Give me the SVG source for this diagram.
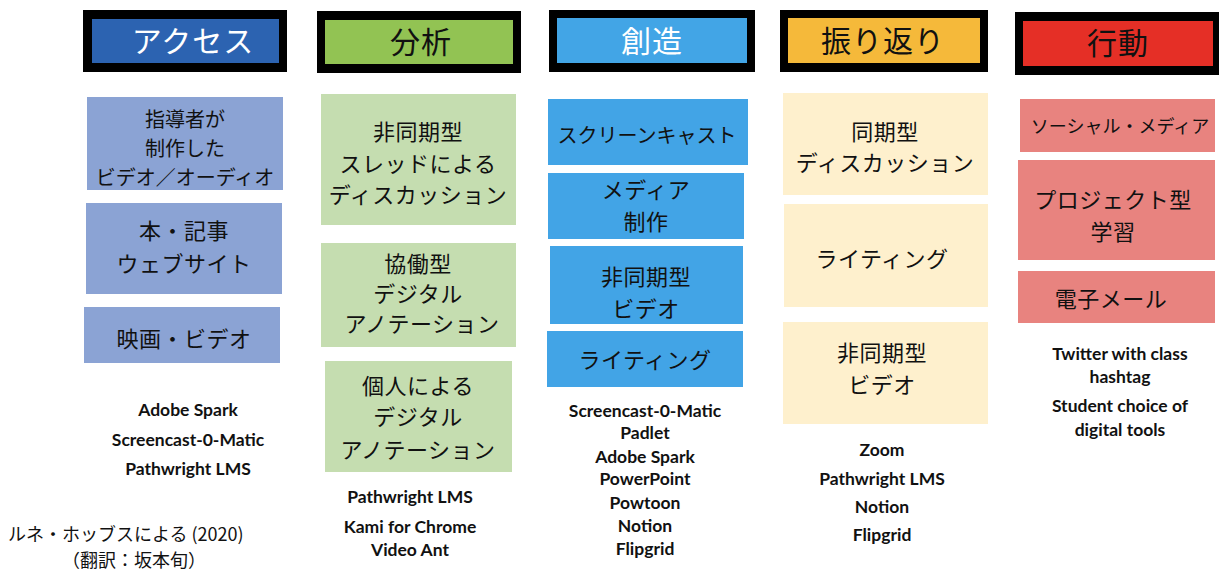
<svg xmlns="http://www.w3.org/2000/svg" width="1219" height="570" viewBox="0 0 1219 570">
<style>
.hd{fill:#000}
.jp{font-family:"Noto Sans CJK JP","Noto Sans",sans-serif;fill:#111;text-anchor:middle}
.h{font-size:30px;letter-spacing:1px}
.w{fill:#fff}
.b20{font-size:20px}
.b22{font-size:22px;letter-spacing:0.5px}
.t{font-family:Lato,"Liberation Sans",sans-serif;font-weight:bold;font-size:17.5px;fill:#111;text-anchor:middle}
.cr{font-family:"Noto Sans CJK JP",sans-serif;font-size:18px;fill:#111}
.acc{fill:#8BA3D4}
.ana{fill:#C5DDB0}
.cre{fill:#42A4E6}
.ref{fill:#FEF0CD}
.act{fill:#E8837F}
</style>
<rect width="1219" height="570" fill="#fff"/>
<g id="header-access">
<rect class="hd" x="83" y="10" width="204" height="62"/>
<rect x="92" y="19" width="187" height="44" fill="#2C63B1"/>
<text class="jp h w" x="193" y="52">アクセス</text>
</g>
<g id="header-analysis">
<rect class="hd" x="317" y="11" width="204" height="62"/>
<rect x="325" y="20" width="188" height="44" fill="#92C353"/>
<text class="jp h" x="421" y="53">分析</text>
</g>
<g id="header-creation">
<rect class="hd" x="549" y="10" width="206" height="62"/>
<rect x="557" y="18" width="190" height="45" fill="#42A5E6"/>
<text class="jp h w" x="652" y="52">創造</text>
</g>
<g id="header-reflection">
<rect class="hd" x="780" y="10" width="208" height="62"/>
<rect x="788" y="18" width="192" height="45" fill="#F5B93A"/>
<text class="jp h" x="883" y="52">振り返り</text>
</g>
<g id="header-action">
<rect class="hd" x="1015" y="12" width="204" height="63"/>
<rect x="1023" y="21" width="190" height="45" fill="#E52F26"/>
<text class="jp h" x="1118" y="54">行動</text>
</g>
<g id="access-1">
<rect class="acc" x="87" y="97" width="196" height="93"/>
<text class="jp b20" x="185" y="127">指導者が</text>
<text class="jp b20" x="185" y="156">制作した</text>
<text class="jp b20" x="185" y="185">ビデオ／オーディオ</text>
</g>
<g id="access-2">
<rect class="acc" x="86" y="203" width="196" height="91"/>
<text class="jp b22" x="184" y="239">本・記事</text>
<text class="jp b22" x="184" y="272">ウェブサイト</text>
</g>
<g id="access-3">
<rect class="acc" x="84" y="307" width="196" height="56"/>
<text class="jp b22" x="184" y="347">映画・ビデオ</text>
</g>
<g id="analysis-1">
<rect class="ana" x="321" y="94" width="195" height="131"/>
<text class="jp b22" x="418" y="140">非同期型</text>
<text class="jp b22" x="418" y="172">スレッドによる</text>
<text class="jp b22" x="418" y="203">ディスカッション</text>
</g>
<g id="analysis-2">
<rect class="ana" x="321" y="243" width="195" height="104"/>
<text class="jp b22" x="418" y="272">協働型</text>
<text class="jp b22" x="418" y="302">デジタル</text>
<text class="jp b22" x="422" y="332">アノテーション</text>
</g>
<g id="analysis-3">
<rect class="ana" x="325" y="361" width="187" height="111"/>
<text class="jp b22" x="418" y="394">個人による</text>
<text class="jp b22" x="418" y="425">デジタル</text>
<text class="jp b22" x="418" y="458">アノテーション</text>
</g>
<g id="creation-1">
<rect class="cre" x="548" y="99" width="200" height="66"/>
<text class="jp b20" x="647" y="143">スクリーンキャスト</text>
</g>
<g id="creation-2">
<rect class="cre" x="548" y="173" width="196" height="66"/>
<text class="jp b22" x="646" y="198">メディア</text>
<text class="jp b22" x="646" y="230">制作</text>
</g>
<g id="creation-3">
<rect class="cre" x="550" y="246" width="193" height="78"/>
<text class="jp b22" x="646" y="285">非同期型</text>
<text class="jp b22" x="646" y="317">ビデオ</text>
</g>
<g id="creation-4">
<rect class="cre" x="547" y="331" width="196" height="56"/>
<text class="jp b22" x="645" y="368">ライティング</text>
</g>
<g id="reflection-1">
<rect class="ref" x="783" y="93" width="205" height="102"/>
<text class="jp b22" x="885" y="140">同期型</text>
<text class="jp b22" x="885" y="171">ディスカッション</text>
</g>
<g id="reflection-2">
<rect class="ref" x="784" y="204" width="204" height="103"/>
<text class="jp b22" x="882" y="267">ライティング</text>
</g>
<g id="reflection-3">
<rect class="ref" x="783" y="322" width="205" height="102"/>
<text class="jp b22" x="882" y="361">非同期型</text>
<text class="jp b22" x="882" y="393">ビデオ</text>
</g>
<g id="action-1">
<rect class="act" x="1020" y="99" width="195" height="53"/>
<text class="jp" x="1120" y="133" font-size="18">ソーシャル・メディア</text>
</g>
<g id="action-2">
<rect class="act" x="1018" y="160" width="197" height="100"/>
<text class="jp b22" x="1113" y="208">プロジェクト型</text>
<text class="jp b22" x="1113" y="240">学習</text>
</g>
<g id="action-3">
<rect class="act" x="1018" y="271" width="197" height="52"/>
<text class="jp b22" x="1111" y="307">電子メール</text>
</g>
<g id="tools-access">
<text class="t" x="188" y="416">Adobe Spark</text>
<text class="t" x="188" y="446">Screencast-0-Matic</text>
<text class="t" x="188" y="475">Pathwright LMS</text>
</g>
<g id="tools-analysis">
<text class="t" x="410" y="503">Pathwright LMS</text>
<text class="t" x="410" y="533">Kami for Chrome</text>
<text class="t" x="410" y="556">Video Ant</text>
</g>
<g id="tools-creation">
<text class="t" x="645" y="417">Screencast-0-Matic</text>
<text class="t" x="645" y="439">Padlet</text>
<text class="t" x="645" y="463">Adobe Spark</text>
<text class="t" x="645" y="485">PowerPoint</text>
<text class="t" x="645" y="509">Powtoon</text>
<text class="t" x="645" y="532">Notion</text>
<text class="t" x="645" y="555">Flipgrid</text>
</g>
<g id="tools-reflection">
<text class="t" x="882" y="456">Zoom</text>
<text class="t" x="882" y="485">Pathwright LMS</text>
<text class="t" x="882" y="513">Notion</text>
<text class="t" x="882" y="541">Flipgrid</text>
</g>
<g id="tools-action">
<text class="t" x="1120" y="360">Twitter with class</text>
<text class="t" x="1120" y="383">hashtag</text>
<text class="t" x="1120" y="412">Student choice of</text>
<text class="t" x="1120" y="436">digital tools</text>
</g>
<g id="credit">
<text class="cr" x="8" y="541">ルネ・ホッブスによる (2020)</text>
<text class="cr" x="62" y="567">（翻訳：坂本旬）</text>
</g>
</svg>
